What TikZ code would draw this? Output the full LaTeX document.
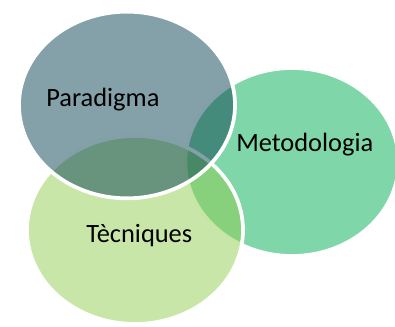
\documentclass[tikz,border=0pt]{standalone}
\usepackage{fontspec}
\setmainfont{Carlito}
\usetikzlibrary{shapes.geometric}
\definecolor{paracol}{RGB}{9,65,81}
\definecolor{metocol}{RGB}{0,173,81}
\definecolor{tecncol}{RGB}{145,205,81}
\begin{document}
\begin{tikzpicture}[x=0.75pt, y=-0.75pt,
		venn/.style = {ellipse, draw=white, line width=2.8pt, fill opacity=0.5, draw opacity=1, inner sep=0pt, minimum width=162pt, minimum height=141pt},
		lbl/.style = {anchor=base west, inner sep=0pt, font=\fontsize{19.8}{23}\selectfont}]
				\useasboundingbox (0,0) rectangle (395,327);

				\node[venn, fill=metocol, minimum width=160pt] (meto) at (292,162) {};
				\node[venn, fill=tecncol] (tecn) at (135,230) {};
				\node[venn, fill=paracol, minimum height=140pt] (para) at (127,105) {};

				\node[lbl] (paralbl) at (46,107) {Paradigma};
				\node[lbl] (metolbl) at (236,152) {Metodologia};
				\node[lbl] (tecnlbl) at (86,242) {Tècniques};

			\end{tikzpicture}
\end{document}
